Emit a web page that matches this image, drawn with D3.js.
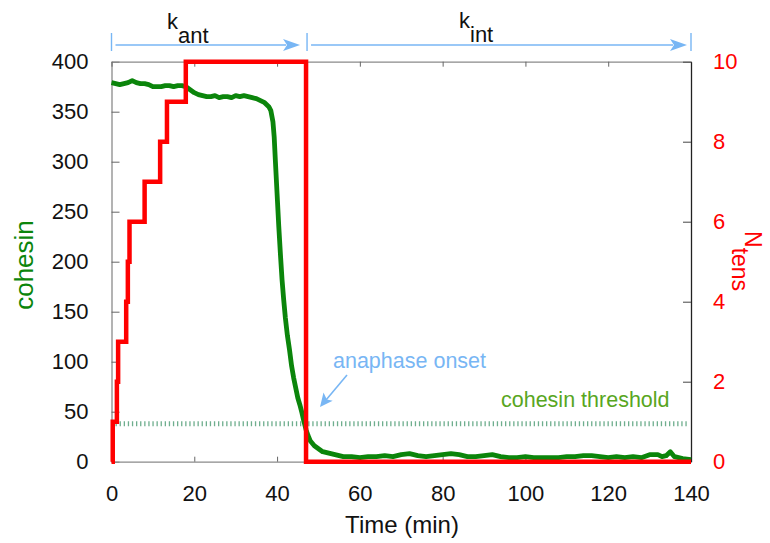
<!DOCTYPE html>
<html>
<head>
<meta charset="utf-8">
<script src="https://cdn.jsdelivr.net/npm/d3@7"></script>
<style>
  html, body { margin: 0; padding: 0; background: #fff; }
  svg { display: block; font-family: "Liberation Sans", Arial, sans-serif; }
</style>
</head>
<body>
<svg id="chart" width="770" height="543"></svg>
<script>
// Cohesin level over time (left axis)
const cohesinTime = [
  0, 1, 2, 3, 4, 5, 6, 7, 8, 9, 10, 11, 12, 13, 14, 15, 16, 17, 18, 19,
  20, 21, 22, 23, 24, 25, 26, 27, 28, 29, 30, 31, 32, 33, 34, 35, 36, 37, 37.5, 38,
  38.5, 39, 39.3, 39.6, 40, 40.4, 40.8, 41.2, 41.6, 42, 42.5, 43, 43.5, 44, 44.5, 45,
  45.5, 46, 46.5, 47, 47.5, 48, 49, 50, 51, 52, 53, 54, 55, 56, 58, 60, 62, 64, 66,
  68, 70, 72, 74, 76, 78, 80, 82, 84, 86, 88, 90, 92, 94, 96, 98, 100, 102, 104, 106,
  108, 110, 112, 114, 116, 118, 120, 122, 124, 126, 128, 130, 132, 133, 134, 135, 136, 138, 140
];
const cohesinValue = [
  379, 378, 377, 378, 379, 381, 379, 378, 378, 377, 375, 375, 375, 376, 376, 375, 376, 376, 375, 372,
  369, 367, 366, 365, 365, 366, 364, 365, 365, 364, 366, 365, 366, 365, 364, 363, 361, 359, 357, 355,
  351, 340, 325, 300, 268, 236, 208, 182, 162, 144, 126, 112, 96, 84, 74, 64,
  57, 49, 40, 32, 26, 21, 16, 13, 10, 9, 8, 7, 6, 5, 5, 4, 5, 5, 6,
  5, 7, 8, 6, 5, 6, 7, 8, 7, 5, 5, 6, 7, 5, 4, 4, 5, 4, 4, 4,
  4, 5, 5, 6, 6, 5, 4, 5, 4, 5, 4, 7, 7, 5, 6, 10, 5, 3, 2
];

// Number of tense attachments, step function (right axis)
const tensTime  = [0, 0.3, 1.3, 1.6, 3.55, 3.95, 4.35, 8.0, 11.75, 13.4, 17.95, 47.0, 140];
const tensCount = [0, 1,   2,   3,   4,    5,    6,    7,   8,     9,    10,    0,    0];

const thresholdValue = 38;
const onsetTime = 47.0;

const timeTicks = [0, 20, 40, 60, 80, 100, 120, 140];
const cohesinTicks = [0, 50, 100, 150, 200, 250, 300, 350, 400];
const tensTicks = [0, 2, 4, 6, 8, 10];

const svg = d3.select("#chart");

const x = d3.scaleLinear().domain([0, 140]).range([111.5, 691]);
const yL = d3.scaleLinear().domain([0, 400]).range([461.7, 61.7]);
const yR = d3.scaleLinear().domain([0, 10]).range([461.7, 61.7]);

const frameGray = "#8a8a8a";
const blue = "#78b6f4";
const green = "#0b850b";
const red = "#ff0000";

// Axes (ticks point inward)
const gLeft = svg.append("g").attr("transform", `translate(${x(0)},0)`)
  .call(d3.axisLeft(yL).tickValues(cohesinTicks).tickSizeInner(-8).tickSizeOuter(0).tickPadding(23));
const gBottom = svg.append("g").attr("transform", `translate(0,${yL(0)})`)
  .call(d3.axisBottom(x).tickValues(timeTicks).tickSizeInner(-5).tickSizeOuter(0).tickPadding(23));
const gTop = svg.append("g").attr("transform", `translate(0,${yL(400)})`)
  .call(d3.axisTop(x).tickValues(timeTicks).tickSizeInner(-5).tickSizeOuter(0).tickFormat(""));
const gRight = svg.append("g").attr("transform", `translate(${x(140)},0)`)
  .call(d3.axisRight(yR).tickValues(tensTicks).tickSizeInner(-8).tickSizeOuter(0).tickPadding(22));

[gLeft, gBottom, gTop].forEach(g => {
  g.select(".domain").attr("stroke", frameGray).attr("stroke-width", 1.3);
  g.selectAll(".tick line").attr("stroke", "#666");
  g.selectAll(".tick text").attr("fill", "#111").attr("font-size", 22)
    .attr("font-family", "Liberation Sans, Arial, sans-serif");
});
gRight.select(".domain").attr("stroke", "#222").attr("stroke-width", 1.3);
gRight.selectAll(".tick line").attr("stroke", "#444");
gRight.selectAll(".tick text").attr("fill", red).attr("font-size", 22)
  .attr("font-family", "Liberation Sans, Arial, sans-serif");
gBottom.selectAll(".tick text").attr("dy", "0.75em");

// Cohesin threshold (dotted)
svg.append("line")
  .attr("x1", x(0) + 4).attr("x2", x(140) - 4)
  .attr("y1", yL(thresholdValue)).attr("y2", yL(thresholdValue))
  .attr("stroke", "#6fae8e").attr("stroke-width", 5)
  .attr("stroke-dasharray", "1.3,2.8");

// Cohesin curve
const cohesinPts = cohesinTime.map((t, i) => [t, cohesinValue[i]]);
svg.append("path")
  .datum(cohesinPts)
  .attr("fill", "none")
  .attr("stroke", green)
  .attr("stroke-width", 4.8)
  .attr("stroke-linejoin", "round")
  .attr("d", d3.line().x(d => x(d[0])).y(d => yL(d[1])));

// Tension step curve
const tensPts = tensTime.map((t, i) => [t, tensCount[i]]);
svg.append("path")
  .datum(tensPts)
  .attr("fill", "none")
  .attr("stroke", red)
  .attr("stroke-width", 4.5)
  .attr("d", d3.line().curve(d3.curveStepAfter).x(d => x(d[0])).y(d => yR(d[1])));

// Phase arrows above the plot
const arrowY = 45;
function hArrow(x0, x1) {
  svg.append("line").attr("x1", x0).attr("x2", x1 - 14)
    .attr("y1", arrowY).attr("y2", arrowY)
    .attr("stroke", blue).attr("stroke-width", 1.6);
  svg.append("path")
    .attr("d", `M${x1},${arrowY} L${x1 - 17},${arrowY - 6} L${x1 - 13},${arrowY} L${x1 - 17},${arrowY + 6} Z`)
    .attr("fill", blue);
}
function vTick(xp) {
  svg.append("line").attr("x1", xp).attr("x2", xp)
    .attr("y1", 33).attr("y2", 51)
    .attr("stroke", blue).attr("stroke-width", 1.4);
}
vTick(x(0));
vTick(x(onsetTime) + 1);
vTick(x(140));
hArrow(x(0) + 4, x(onsetTime) - 6);
hArrow(x(onsetTime) + 5, x(140) - 4);

function subLabel(xp, yp, main, sub) {
  const t = svg.append("text").attr("x", xp).attr("y", yp)
    .attr("font-size", 22).attr("fill", "#111");
  t.append("tspan").text(main);
  t.append("tspan").attr("dy", 14).text(sub);
}
subLabel(167, 29, "k", "ant");
subLabel(459, 28, "k", "int");

// Anaphase onset annotation
svg.append("text").attr("x", 333).attr("y", 368)
  .attr("font-size", 21.5).attr("fill", blue).text("anaphase onset");
svg.append("line").attr("x1", 347).attr("y1", 375).attr("x2", 326).attr("y2", 400)
  .attr("stroke", blue).attr("stroke-width", 1.6);
svg.append("path")
  .attr("d", "M320,407 L323.5,392.5 L326.8,399.4 L332.7,400.8 Z")
  .attr("fill", blue);

svg.append("text").attr("x", 501).attr("y", 407)
  .attr("font-size", 21.5).attr("fill", "#58a61e").text("cohesin threshold");

// Axis titles
svg.append("text").attr("x", 402).attr("y", 533)
  .attr("text-anchor", "middle").attr("font-size", 24).attr("fill", "#111")
  .text("Time (min)");

svg.append("text")
  .attr("transform", "translate(33,265) rotate(-90)")
  .attr("text-anchor", "middle").attr("font-size", 26).attr("fill", green)
  .text("cohesin");

const nt = svg.append("text")
  .attr("transform", "translate(745,231) rotate(90)")
  .attr("font-size", 23).attr("fill", red);
nt.append("tspan").text("N");
nt.append("tspan").attr("dy", 13).text("tens");
</script>
</body>
</html>
